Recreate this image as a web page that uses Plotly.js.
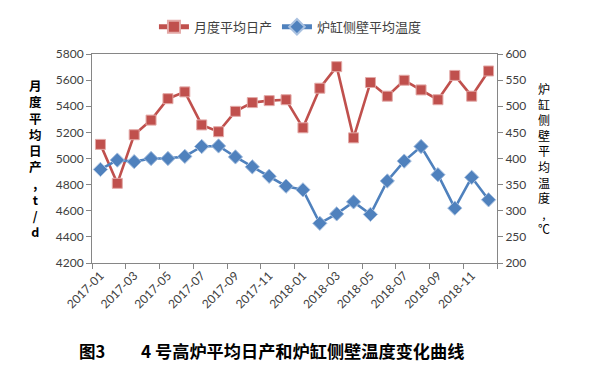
<!DOCTYPE html>
<html>
<head>
<meta charset="utf-8">
<script src="https://cdn.plot.ly/plotly-3.0.1.min.js"></script>
<style>html,body{margin:0;padding:0;background:#fff;}#chart{width:599px;height:366px;}</style>
</head>
<body>
<div id="chart"></div>
<script>
// ---- data ----
const months = ["2017-01","2017-02","2017-03","2017-04","2017-05","2017-06","2017-07","2017-08","2017-09","2017-10","2017-11","2017-12",
                "2018-01","2018-02","2018-03","2018-04","2018-05","2018-06","2018-07","2018-08","2018-09","2018-10","2018-11","2018-12"];
const output = [5108, 4810, 5182, 5294, 5458, 5510, 5257, 5205, 5361, 5428, 5443, 5450,
                5235, 5538, 5703, 5158, 5582, 5477, 5599, 5525, 5450, 5636, 5477, 5670];
const temperature = [379, 397, 394, 400, 400, 404, 423, 424, 403, 384, 366, 347,
                     340, 276, 294, 317, 293, 357, 395, 423, 369, 305, 364, 321];
const outputName = "月度平均日产";
const tempName = "炉缸侧壁平均温度";
const leftTitle = ["月","度","平","均","日","产",",","t","/","d"];
const rightTitle = ["炉","缸","侧","壁","平","均","温","度",",","℃"];
const captionLabel = "图3";
const captionText = "4 号高炉平均日产和炉缸侧壁温度变化曲线";

// ---- chart ----
const xIdx = months.map((m, i) => i);
const labelIdx = xIdx.filter(i => i % 2 === 0);
const labelText = labelIdx.map(i => months[i]);

const traces = [
  {
    x: xIdx, y: output, name: outputName, type: "scatter", mode: "lines+markers",
    line: {color: "#C0504D", width: 2.6},
    marker: {symbol: "square", size: 10, color: "#C0504D", line: {color: "#e3a9a7", width: 1}},
    yaxis: "y"
  },
  {
    x: xIdx, y: temperature, name: tempName, type: "scatter", mode: "lines+markers",
    line: {color: "#4F81BD", width: 2.6},
    marker: {symbol: "diamond", size: 11, color: "#4F81BD", line: {color: "#a9c1e0", width: 1}},
    yaxis: "y2"
  }
];

const tickFont = {family: "Lato, 'Liberation Sans', sans-serif", size: 12, color: "#404040"};
const cjk = "'Noto Sans CJK SC', sans-serif";

const layout = {
  width: 599, height: 366,
  margin: {l: 92, r: 102, t: 48, b: 103},
  paper_bgcolor: "#fff", plot_bgcolor: "#fff",
  showlegend: true,
  legend: {orientation: "h", x: 0.49, xanchor: "center", y: 1.13, yanchor: "middle",
           font: {family: cjk, size: 13, color: "#404040"}, itemsizing: "constant", itemwidth: 30,
           tracegroupgap: 0, bgcolor: "rgba(0,0,0,0)"},
  xaxis: {
    range: [-0.5, 23.5], showgrid: false, zeroline: false,
    showline: true, linecolor: "#868686", linewidth: 1, mirror: true,
    tickmode: "array", tickvals: labelIdx, ticktext: labelText, ticks: "",
    tickangle: -45, tickfont: tickFont,
    minor: {tick0: -0.5, dtick: 2, ticks: "outside", ticklen: 5, tickcolor: "#868686", showgrid: false}
  },
  yaxis: {
    range: [4200, 5800], dtick: 200, showgrid: false, zeroline: false,
    showline: true, linecolor: "#868686", linewidth: 1,
    ticks: "outside", ticklen: 5, tickcolor: "#868686", tickfont: tickFont
  },
  yaxis2: {
    range: [200, 600], dtick: 50, overlaying: "y", side: "right", showgrid: false, zeroline: false,
    showline: true, linecolor: "#868686", linewidth: 1,
    ticks: "outside", ticklen: 5, tickcolor: "#868686", tickfont: tickFont
  },
  annotations: [
    {text: leftTitle.join("<br>"), xref: "paper", yref: "paper", x: -0.14, y: 0.5,
     xanchor: "center", yanchor: "middle", showarrow: false,
     font: {family: cjk, size: 12.5, color: "#000", weight: "bold"}},
    {text: rightTitle.join("<br>"), xref: "paper", yref: "paper", x: 1.116, y: 0.5,
     xanchor: "center", yanchor: "middle", showarrow: false,
     font: {family: cjk, size: 12, color: "#000"}},
    {text: "<b>" + captionLabel + "</b>", xref: "paper", yref: "paper", x: -0.037, y: -0.419,
     xanchor: "left", yanchor: "middle", showarrow: false,
     font: {family: cjk, size: 16.5, color: "#000"}},
    {text: "<b>" + captionText + "</b>", xref: "paper", yref: "paper", x: 0.923, y: -0.419,
     xanchor: "right", yanchor: "middle", showarrow: false,
     font: {family: cjk, size: 17.2, color: "#000"}}
  ]
};

Plotly.newPlot("chart", traces, layout, {displayModeBar: false, staticPlot: true});
</script>
</body>
</html>
